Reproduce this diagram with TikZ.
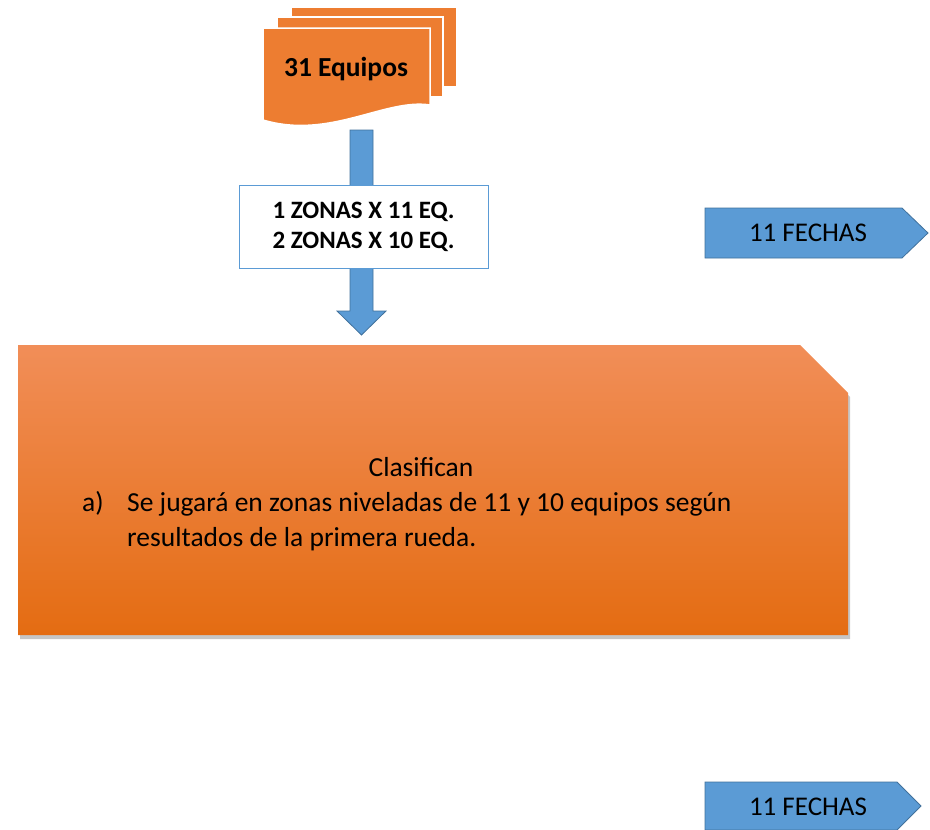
\documentclass[tikz,border=0pt]{standalone}
\usepackage{fontspec}
\setmainfont{Carlito}
\usepackage{tikz}
\usetikzlibrary{shadows}
\definecolor{docorange}{HTML}{ED7D31}
\definecolor{boxtop}{HTML}{F18E58}
\definecolor{boxbottom}{HTML}{E46C12}
\definecolor{arrowblue}{HTML}{5B9BD5}
\definecolor{arrowline}{HTML}{41719C}

\begin{document}
\begin{tikzpicture}[
    x=1pt,y=-1pt,
    sheet/.style={fill=docorange, draw=white, line width=1.5pt},
    barrow/.style={fill=arrowblue, draw=arrowline, line width=.8pt},
    tag/.style={font=\fontsize{27}{30}\selectfont},
    body/.style={font=\fontsize{27.5}{30}\selectfont, inner sep=0pt}
    ]
    \useasboundingbox (0,0) rectangle (930,830);
    % stack of sheets
    \draw[sheet] (291,7) rectangle (457,87);
    \draw[sheet] (277,17) rectangle (443,97);
    \draw[sheet] (263,28) -- (430,28) -- (430,105)
      .. controls (385,98) and (330,140) .. (263,120) -- cycle;
    \node[font=\bfseries\fontsize{27.5}{30}\selectfont, anchor=base] (equipos) at (346,76) {31 Equipos};
    % down arrow
    \draw[barrow] (350,130) -- (373,130) -- (373,311) -- (386,311) -- (361.5,335)
      -- (337,311) -- (350,311) -- cycle;
    \node[draw=arrowblue, fill=white, line width=1pt, minimum width=249, minimum height=83,
      align=center, font=\bfseries\fontsize{25}{30}\selectfont] (zonas) at (363.5,226.5)
      {1 ZONAS X 11 EQ.\\2 ZONAS X 10 EQ.};
    % big box
    \path[top color=boxtop, bottom color=boxbottom,
      drop shadow={opacity=.45, shadow xshift=2pt, shadow yshift=-4pt}]
      (18,345) -- (800,345) -- (848,393) -- (848,635) -- (18,635) -- cycle;
    \node[body, anchor=base] (clas) at (421,476) {Clasifican};
    \node[body, anchor=base west] (item) at (82,511) {a)};
    \node[body, anchor=base west] (regla1) at (127,511)
      {Se jugará en zonas niveladas de 11 y 10 equipos según};
    \node[body, anchor=base west] (regla2) at (127,546)
      {resultados de la primera rueda.};
    % tags
    \draw[barrow] (705,208) -- (902,208) -- (928,233) -- (902,258) -- (705,258) -- cycle;
    \node[tag] (fechasA) at (808,233) {11 FECHAS};
    \draw[barrow] (705,782) -- (897,782) -- (921,806) -- (897,830) -- (705,830) -- cycle;
    \node[tag] (fechasB) at (808,807) {11 FECHAS};
  \end{tikzpicture}
\end{document}
